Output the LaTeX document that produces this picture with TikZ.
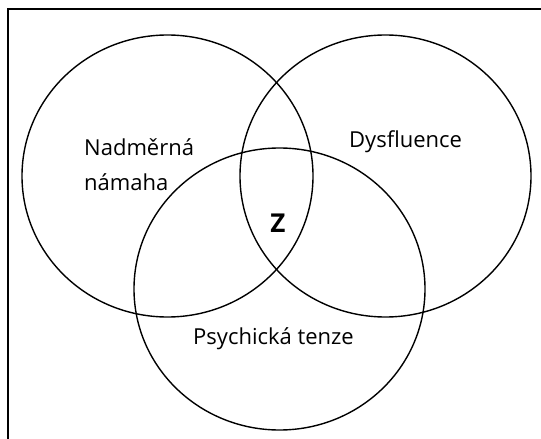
\documentclass[tikz,border=0pt]{standalone}
\usepackage{fontspec}
\setmainfont{Open Sans}
\usetikzlibrary{shapes.geometric, positioning}

\begin{document}
\begin{tikzpicture}[
    x=1pt, y=-1pt,
    every node/.style={font=\fontsize{22}{35}\selectfont},
    set/.style={draw, ellipse, minimum width=291pt, minimum height=282pt, inner sep=0pt, line width=1.4pt},
    setlabel/.style={anchor=base west, align=left, inner sep=0pt}
]
    \useasboundingbox (0,0) rectangle (541,439);
    % frame, cut off at the right and bottom
    \draw[line width=2pt] (8,439) -- (8,9) -- (541,9);

    \node[set] (strain) at (167.5,176) {};
    \node[set] (dysfl) at (385.5,176) {};
    \node[set] (tension) at (279.5,289) {};

    \node[setlabel] (strainlbl) at (84,190) {Nadměrná\\námaha};
    \node[setlabel] (dysfllbl) at (349,147) {Dysfluence};
    \node[setlabel] (tensionlbl) at (193,344) {Psychická tenze};
    \node[font=\bfseries\fontsize{26}{30}\selectfont, inner sep=0pt] (core) at (278,223.5) {Z};
\end{tikzpicture}
\end{document}
